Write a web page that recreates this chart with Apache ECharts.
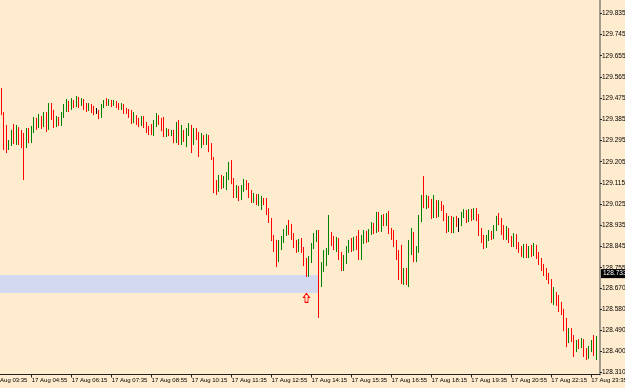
<!DOCTYPE html>
<html><head><meta charset="utf-8">
<script src="https://cdn.jsdelivr.net/npm/echarts@6/dist/echarts.min.js"></script>
<style>html,body{margin:0;padding:0;background:#FFEBCD}#c{width:625px;height:388px}</style>
</head><body><div id="c"></div>
<script>
// ---- data (M5 bars, 17 Aug) ----
const day = '17 Aug';
const axisStartTime = '03:35';   // first slot on the time axis (label partly cut)
const slotMinutes = 5;
const slotCount = 244;           // 03:35 ... 23:50
const firstBarTime = '17 Aug 03:55';

const opens = [
129.509,129.408,129.327,129.263,129.284,129.323,129.289,129.340,129.302,129.306,
129.272,129.331,129.297,129.340,129.374,129.352,129.382,129.357,129.403,129.348,
129.437,129.391,129.361,129.382,129.365,129.399,129.433,129.450,129.433,129.458,
129.446,129.471,129.450,129.463,129.442,129.429,129.442,129.425,129.412,129.412,
129.395,129.442,129.463,129.450,129.463,129.450,129.458,129.442,129.433,129.446,
129.420,129.416,129.399,129.378,129.395,129.374,129.365,129.386,129.357,129.340,
129.348,129.327,129.361,129.391,129.369,129.374,129.318,129.335,129.323,129.327,
129.293,129.348,129.284,129.318,129.297,129.327,129.352,129.284,129.340,129.306,
129.276,129.306,129.289,129.310,129.263,129.221,129.106,129.085,129.136,129.102,
129.110,129.144,129.200,129.119,129.064,129.085,129.051,129.089,129.119,129.098,
129.064,129.042,129.060,129.034,129.021,129.042,129.042,128.992,128.958,128.881,
128.856,128.796,128.852,128.873,128.902,128.924,128.928,128.890,128.860,128.830,
128.864,128.830,128.779,128.728,128.788,128.847,128.881,128.907,128.703,128.754,
128.779,128.822,128.881,128.860,128.839,128.873,128.801,128.754,128.779,128.830,
128.860,128.839,128.873,128.881,128.801,128.873,128.902,128.873,128.907,128.932,
128.915,128.975,128.924,128.962,128.941,128.987,128.907,128.890,128.856,128.805,
128.779,128.703,128.737,128.699,128.830,128.894,128.796,128.830,128.966,129.055,
129.013,129.047,129.034,128.975,129.030,128.979,129.030,129.008,128.975,128.915,
128.958,128.915,128.958,128.941,128.941,128.979,128.992,128.958,128.987,128.966,
128.992,128.966,128.907,128.881,128.847,128.881,128.898,128.886,128.924,128.970,
128.949,128.907,128.890,128.915,128.873,128.856,128.890,128.847,128.830,128.813,
128.834,128.805,128.830,128.813,128.843,128.805,128.779,128.754,128.737,128.716,
128.699,128.610,128.635,128.627,128.593,128.567,128.525,128.448,128.482,128.457,
128.406,128.435,128.423,128.444,128.397,128.380,128.410,128.457,128.380];

const closes = [
129.408,129.297,129.263,129.284,129.323,129.289,129.340,129.302,129.272,129.272,
129.331,129.297,129.340,129.374,129.352,129.382,129.357,129.403,129.344,129.437,
129.391,129.361,129.382,129.365,129.399,129.433,129.450,129.433,129.458,129.446,
129.471,129.450,129.463,129.442,129.429,129.442,129.425,129.412,129.412,129.395,
129.442,129.458,129.450,129.463,129.450,129.458,129.442,129.433,129.446,129.420,
129.416,129.399,129.378,129.395,129.374,129.365,129.386,129.357,129.340,129.327,
129.327,129.361,129.391,129.369,129.344,129.318,129.335,129.323,129.327,129.293,
129.348,129.284,129.318,129.297,129.327,129.352,129.284,129.340,129.306,129.276,
129.306,129.289,129.310,129.263,129.221,129.085,129.081,129.136,129.102,129.127,
129.144,129.178,129.119,129.064,129.085,129.051,129.089,129.119,129.098,129.064,
129.042,129.060,129.034,129.055,129.042,129.034,128.992,128.958,128.881,128.856,
128.796,128.852,128.873,128.902,128.924,128.907,128.890,128.852,128.830,128.864,
128.830,128.779,128.728,128.788,128.847,128.881,128.907,128.716,128.754,128.796,
128.822,128.881,128.860,128.839,128.873,128.801,128.754,128.779,128.830,128.860,
128.839,128.873,128.847,128.801,128.873,128.902,128.873,128.907,128.932,128.911,
128.975,128.924,128.962,128.941,128.970,128.907,128.881,128.856,128.805,128.745,
128.703,128.737,128.699,128.830,128.894,128.796,128.830,128.966,129.055,129.021,
129.047,129.021,128.975,129.030,128.979,129.030,129.008,128.966,128.915,128.958,
128.915,128.958,128.941,128.941,128.979,128.992,128.958,128.987,128.966,128.992,
128.966,128.907,128.873,128.847,128.881,128.898,128.886,128.924,128.958,128.949,
128.907,128.890,128.915,128.873,128.856,128.890,128.847,128.830,128.813,128.834,
128.805,128.830,128.813,128.843,128.805,128.779,128.754,128.737,128.716,128.699,
128.618,128.635,128.618,128.584,128.567,128.503,128.448,128.482,128.457,128.406,
128.435,128.423,128.444,128.397,128.380,128.410,128.435,128.406,128.440];

const lows = [
129.403,129.255,129.242,129.255,129.272,129.280,129.276,129.276,129.263,129.127,
129.263,129.284,129.284,129.327,129.340,129.348,129.344,129.352,129.331,129.340,
129.382,129.348,129.352,129.357,129.357,129.391,129.416,129.416,129.425,129.433,
129.437,129.433,129.442,129.425,129.416,129.420,129.412,129.403,129.408,129.386,
129.391,129.433,129.442,129.442,129.437,129.442,129.433,129.425,129.425,129.408,
129.408,129.391,129.365,129.369,129.361,129.352,129.357,129.348,129.327,129.318,
129.318,129.314,129.352,129.361,129.335,129.310,129.310,129.314,129.314,129.284,
129.284,129.276,129.276,129.289,129.267,129.314,129.242,129.276,129.297,129.225,
129.263,129.276,129.276,129.246,129.212,129.072,129.064,129.077,129.089,129.093,
129.085,129.127,129.110,129.051,129.051,129.038,129.042,129.077,129.085,129.051,
129.030,129.030,129.021,129.017,129.000,129.021,128.979,128.945,128.868,128.822,
128.758,128.779,128.830,128.860,128.890,128.894,128.873,128.839,128.818,128.822,
128.818,128.762,128.716,128.716,128.775,128.834,128.864,128.542,128.673,128.737,
128.762,128.809,128.847,128.830,128.822,128.788,128.741,128.741,128.771,128.818,
128.822,128.826,128.830,128.788,128.788,128.856,128.860,128.864,128.894,128.898,
128.902,128.907,128.907,128.932,128.932,128.898,128.873,128.843,128.788,128.703,
128.686,128.682,128.682,128.673,128.809,128.779,128.779,128.818,128.949,129.008,
129.004,129.008,128.962,128.966,128.966,128.970,128.996,128.953,128.902,128.907,
128.902,128.902,128.928,128.907,128.932,128.966,128.945,128.949,128.953,128.958,
128.953,128.890,128.860,128.834,128.839,128.868,128.873,128.877,128.911,128.936,
128.894,128.873,128.873,128.860,128.843,128.843,128.834,128.818,128.801,128.796,
128.796,128.796,128.801,128.805,128.792,128.767,128.741,128.720,128.703,128.686,
128.605,128.597,128.593,128.567,128.554,128.486,128.418,128.435,128.440,128.376,
128.397,128.410,128.414,128.376,128.363,128.368,128.397,128.380,128.363];

const highs = [
129.518,129.416,129.361,129.297,129.340,129.365,129.361,129.352,129.340,129.327,
129.348,129.348,129.357,129.395,129.391,129.408,129.399,129.416,129.416,129.454,
129.454,129.425,129.399,129.395,129.416,129.450,129.471,129.463,129.475,129.467,
129.484,129.480,129.475,129.471,129.454,129.454,129.450,129.442,129.433,129.425,
129.450,129.467,129.475,129.471,129.467,129.467,129.463,129.454,129.454,129.450,
129.433,129.429,129.425,129.416,129.403,129.391,129.399,129.399,129.374,129.357,
129.365,129.382,129.412,129.403,129.391,129.395,129.348,129.344,129.340,129.340,
129.374,129.382,129.361,129.340,129.348,129.369,129.361,129.348,129.348,129.331,
129.327,129.318,129.323,129.318,129.284,129.225,129.127,129.149,129.149,129.144,
129.161,129.204,129.212,129.136,129.106,129.102,129.106,129.132,129.127,129.115,
129.085,129.072,129.068,129.068,129.060,129.051,129.051,129.008,128.966,128.894,
128.873,128.873,128.890,128.919,128.936,128.958,128.941,128.902,128.873,128.877,
128.881,128.843,128.796,128.805,128.860,128.902,128.915,128.915,128.779,128.830,
128.839,128.979,128.907,128.890,128.886,128.881,128.822,128.809,128.847,128.873,
128.881,128.886,128.890,128.915,128.894,128.915,128.911,128.919,128.949,128.945,
128.992,128.992,128.979,128.983,128.987,128.996,128.924,128.915,128.873,128.830,
128.852,128.754,128.754,128.873,128.924,128.907,128.847,128.979,129.064,129.144,
129.064,129.060,129.047,129.064,129.042,129.042,129.038,129.021,128.987,128.975,
128.975,128.970,128.975,128.966,128.992,129.004,129.000,129.004,129.004,129.008,
129.008,128.983,128.924,128.894,128.894,128.915,128.911,128.936,128.975,128.987,
128.966,128.936,128.932,128.924,128.890,128.902,128.898,128.864,128.847,128.856,
128.856,128.847,128.852,128.860,128.852,128.822,128.796,128.771,128.754,128.733,
128.707,128.673,128.652,128.639,128.610,128.580,128.542,128.499,128.499,128.469,
128.448,128.452,128.457,128.452,128.414,128.423,128.448,128.469,128.465];

const xTickLabels = ['17 Aug 03:35','17 Aug 04:55','17 Aug 06:15','17 Aug 07:35','17 Aug 08:55',
  '17 Aug 10:15','17 Aug 11:35','17 Aug 12:55','17 Aug 14:15','17 Aug 15:35','17 Aug 16:55',
  '17 Aug 18:15','17 Aug 19:35','17 Aug 20:55','17 Aug 22:15','17 Aug 23:35'];
const yTickValues = [129.835,129.745,129.655,129.565,129.475,129.385,129.295,129.205,129.115,
  129.025,128.935,128.845,128.755,128.670,128.580,128.490,128.400,128.310];
const yMin = 128.3018, yMax = 129.8915;

const currentPrice = 128.733;
const zoneStart = '17 Aug 03:35', zoneEnd = '17 Aug 14:30';
const zoneTop = 128.724, zoneBottom = 128.648;
const arrowTime = '17 Aug 14:05', arrowPrice = 128.627;

// ---- build time axis ----
const pad = n => String(n).padStart(2, '0');
const startMin = parseInt(axisStartTime.slice(0,2),10)*60 + parseInt(axisStartTime.slice(3),10);
const categories = [];
for (let i = 0; i < slotCount; i++) {
  const m = startMin + i*slotMinutes;
  categories.push(day + ' ' + pad(Math.floor(m/60)) + ':' + pad(m%60));
}
const first = categories.indexOf(firstBarTime);
const candles = categories.map((c, i) => {
  const k = i - first;
  return (k >= 0 && k < opens.length) ? [opens[k], closes[k], lows[k], highs[k]] : ['-','-','-','-'];
});

const font = "'Liberation Sans',Arial,sans-serif";
const showTick = (i, v) => xTickLabels.indexOf(v) >= 0;

const chart = echarts.init(document.getElementById('c'), null, {renderer:'canvas'});
chart.setOption({
  backgroundColor: '#FFEBCD',
  animation: false,
  grid: {left: -9.5, right: 25, top: 0, bottom: 13.5, containLabel: false, outerBoundsMode: 'none'},
  xAxis: {
    type: 'category', data: categories, boundaryGap: true,
    axisLine: {show: true, lineStyle: {color: '#222', width: 1}},
    axisTick: {show: true, alignWithLabel: true, interval: showTick, length: 3, lineStyle: {color: '#222'}},
    axisLabel: {interval: showTick, align: 'left', margin: 3, fontSize: 6, fontFamily: font, color: '#000',
      showMinLabel: true, showMaxLabel: true, hideOverlap: false},
    splitLine: {show: false}
  },
  yAxis: {
    type: 'value', position: 'right', min: yMin, max: yMax,
    axisLine: {show: true, lineStyle: {color: '#a39c8e', width: 2}},
    axisTick: {show: true, length: 2, customValues: yTickValues, lineStyle: {color: '#222'}},
    axisLabel: {customValues: yTickValues, formatter: v => Number(v).toFixed(3), fontSize: 6.5, fontFamily: font, color: '#000', margin: 2},
    splitLine: {show: false}
  },
  series: [{
    type: 'candlestick', data: candles, barWidth: 1,
    itemStyle: {color: '#008000', color0: '#ff0000', borderColor: '#008000', borderColor0: '#ff0000', borderColorDoji: '#000', borderWidth: 1},
    markArea: {silent: true, itemStyle: {color: '#d3d9ee', opacity: 1},
      data: [[{xAxis: zoneStart, yAxis: zoneTop}, {xAxis: zoneEnd, yAxis: zoneBottom}]]},
    markLine: {silent: true, symbol: 'none', lineStyle: {color: 'rgba(0,0,0,0)', width: 1},
      label: {show: true, position: 'end', distance: 1, formatter: currentPrice.toFixed(3), backgroundColor: '#000',
        color: '#fff', fontSize: 6.5, fontFamily: font, padding: [1, 3, 1, 2]},
      data: [{yAxis: currentPrice}]},
    markPoint: {silent: true, symbol: 'path://M3,0L6,4L4.5,4L4.5,9L1.5,9L1.5,4L0,4Z', symbolSize: [6, 9],
      itemStyle: {color: '#FFEBCD', borderColor: '#ff0000', borderWidth: 1}, label: {show: false},
      data: [{coord: [arrowTime, arrowPrice]}]}
  }]
});
</script></body></html>
